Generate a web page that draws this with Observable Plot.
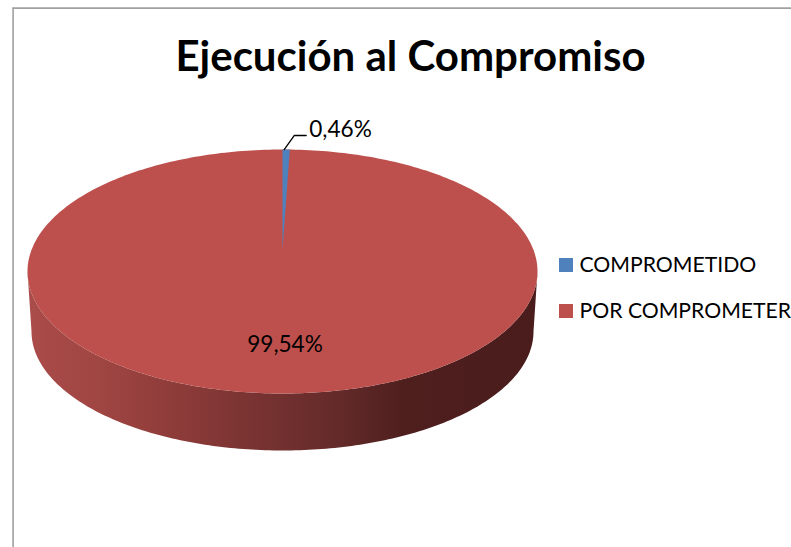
<!DOCTYPE html>
<html>
<head>
<meta charset="utf-8">
<script src="https://cdn.jsdelivr.net/npm/d3@7"></script>
<script src="https://cdn.jsdelivr.net/npm/@observablehq/plot@0.6"></script>
<style>html,body{margin:0;padding:0;background:#fff;overflow:hidden}</style>
</head>
<body>
<div id="chart"></div>
<script>
const chartTitle = "Ejecución al Compromiso";
const categories = ["COMPROMETIDO", "POR COMPROMETER"];
const shares = [0.46, 99.54];
const shareLabels = ["0,46%", "99,54%"];
const colors = ["#4f81bd", "#bd504d"];
const sideStops = [
  [0, "#aa4c49"], [0.14, "#9f4542"], [0.30, "#8c3b39"], [0.46, "#763231"],
  [0.62, "#622a29"], [0.74, "#4f1f1e"], [1, "#4a1c1c"]
];

const W = 791, H = 547;
const font = "Lato, 'Open Sans', sans-serif";
const face = {cx: 282, cy: 271, rx: 255, ry: 122};
const low = {cx: 282, cy: 331, rx: 251, ry: 119};
const hub = {x: 282, y: 249};
const ang = d3.range(0, 361, 1).map(d => d * Math.PI / 180);
const rim = (e, a) => ({x: e.cx + e.rx * Math.sin(a), y: e.cy - e.ry * Math.cos(a)});

// top face of the large slice (whole disc) and the small slice on top of it
const disc = ang.map(a => rim(face, a));
const sweep = shares[0] / d3.sum(shares) * 2 * Math.PI;
const wedge = [hub, ...d3.range(0, 21).map(i => rim(face, sweep * i / 20)), hub];
// wall below the disc
const wall = [
  ...d3.range(270, 89, -1).map(d => rim(face, d * Math.PI / 180)),
  ...d3.range(90, 271, 1).map(d => rim(low, d * Math.PI / 180))
];
const midTop = rim(face, sweep / 2);
const leader = [
  {x: midTop.x - 2, y: midTop.y},
  {x: midTop.x + 8, y: midTop.y - 14},
  {x: midTop.x + 20, y: midTop.y - 14}
];

const gradient = (index, {x}) => {
  const g = d3.create("svg:linearGradient").attr("id", "wallShade")
    .attr("gradientUnits", "userSpaceOnUse")
    .attr("x1", x(low.cx - low.rx)).attr("x2", x(low.cx + low.rx))
    .attr("y1", 0).attr("y2", 0);
  sideStops.forEach(([o, c]) => g.append("stop").attr("offset", o).attr("stop-color", c));
  const d = d3.create("svg:defs");
  d.node().append(g.node());
  return d.node();
};

const legend = categories.map((name, i) => ({name, color: colors[i], y: 265 + i * 46}));

const plot = Plot.plot({
  width: W, height: H,
  margin: 0,
  x: {domain: [0, W], range: [0, W], axis: null},
  y: {domain: [0, H], range: [0, H], axis: null},
  style: {background: "#fff"},
  marks: [
    gradient,
    Plot.ruleX([12.6], {y1: 7.6, y2: H, stroke: "#a0a0a0", strokeWidth: 1.6}),
    Plot.ruleY([7.6], {x1: 12.6, x2: W, stroke: "#a0a0a0", strokeWidth: 1.6}),
    Plot.line(wall, {x: "x", y: "y", fill: "url(#wallShade)", stroke: "none", curve: "linear"}),
    Plot.line(disc, {x: "x", y: "y", fill: colors[1], stroke: "none", curve: "linear"}),
    Plot.line(wedge, {x: "x", y: "y", fill: colors[0], stroke: "none", curve: "linear"}),
    Plot.line(leader, {x: "x", y: "y", stroke: "#000", strokeWidth: 1.3, curve: "linear"}),
    Plot.text([chartTitle], {x: () => 410, y: () => 57, text: d => d, fontFamily: font, fontWeight: 700, fontSize: 42, fill: "#000", textAnchor: "middle"}),
    Plot.text([shareLabels[0]], {x: () => midTop.x + 23, y: () => midTop.y - 20, text: d => d, fontFamily: font, fontSize: 22.6, fill: "#000", textAnchor: "start"}),
    Plot.text([shareLabels[1]], {x: () => 284.5, y: () => 344, text: d => d, fontFamily: font, fontSize: 22.6, fill: "#000", textAnchor: "middle"}),
    Plot.rect(legend, {x1: () => 559, x2: () => 573, y1: d => d.y - 7, y2: d => d.y + 7, fill: "color"}),
    Plot.text(legend, {x: () => 579, y: "y", text: "name", fontFamily: font, fontSize: 21.2, fill: "#000", textAnchor: "start"})
  ]
});
document.getElementById("chart").append(plot);
</script>
</body>
</html>
